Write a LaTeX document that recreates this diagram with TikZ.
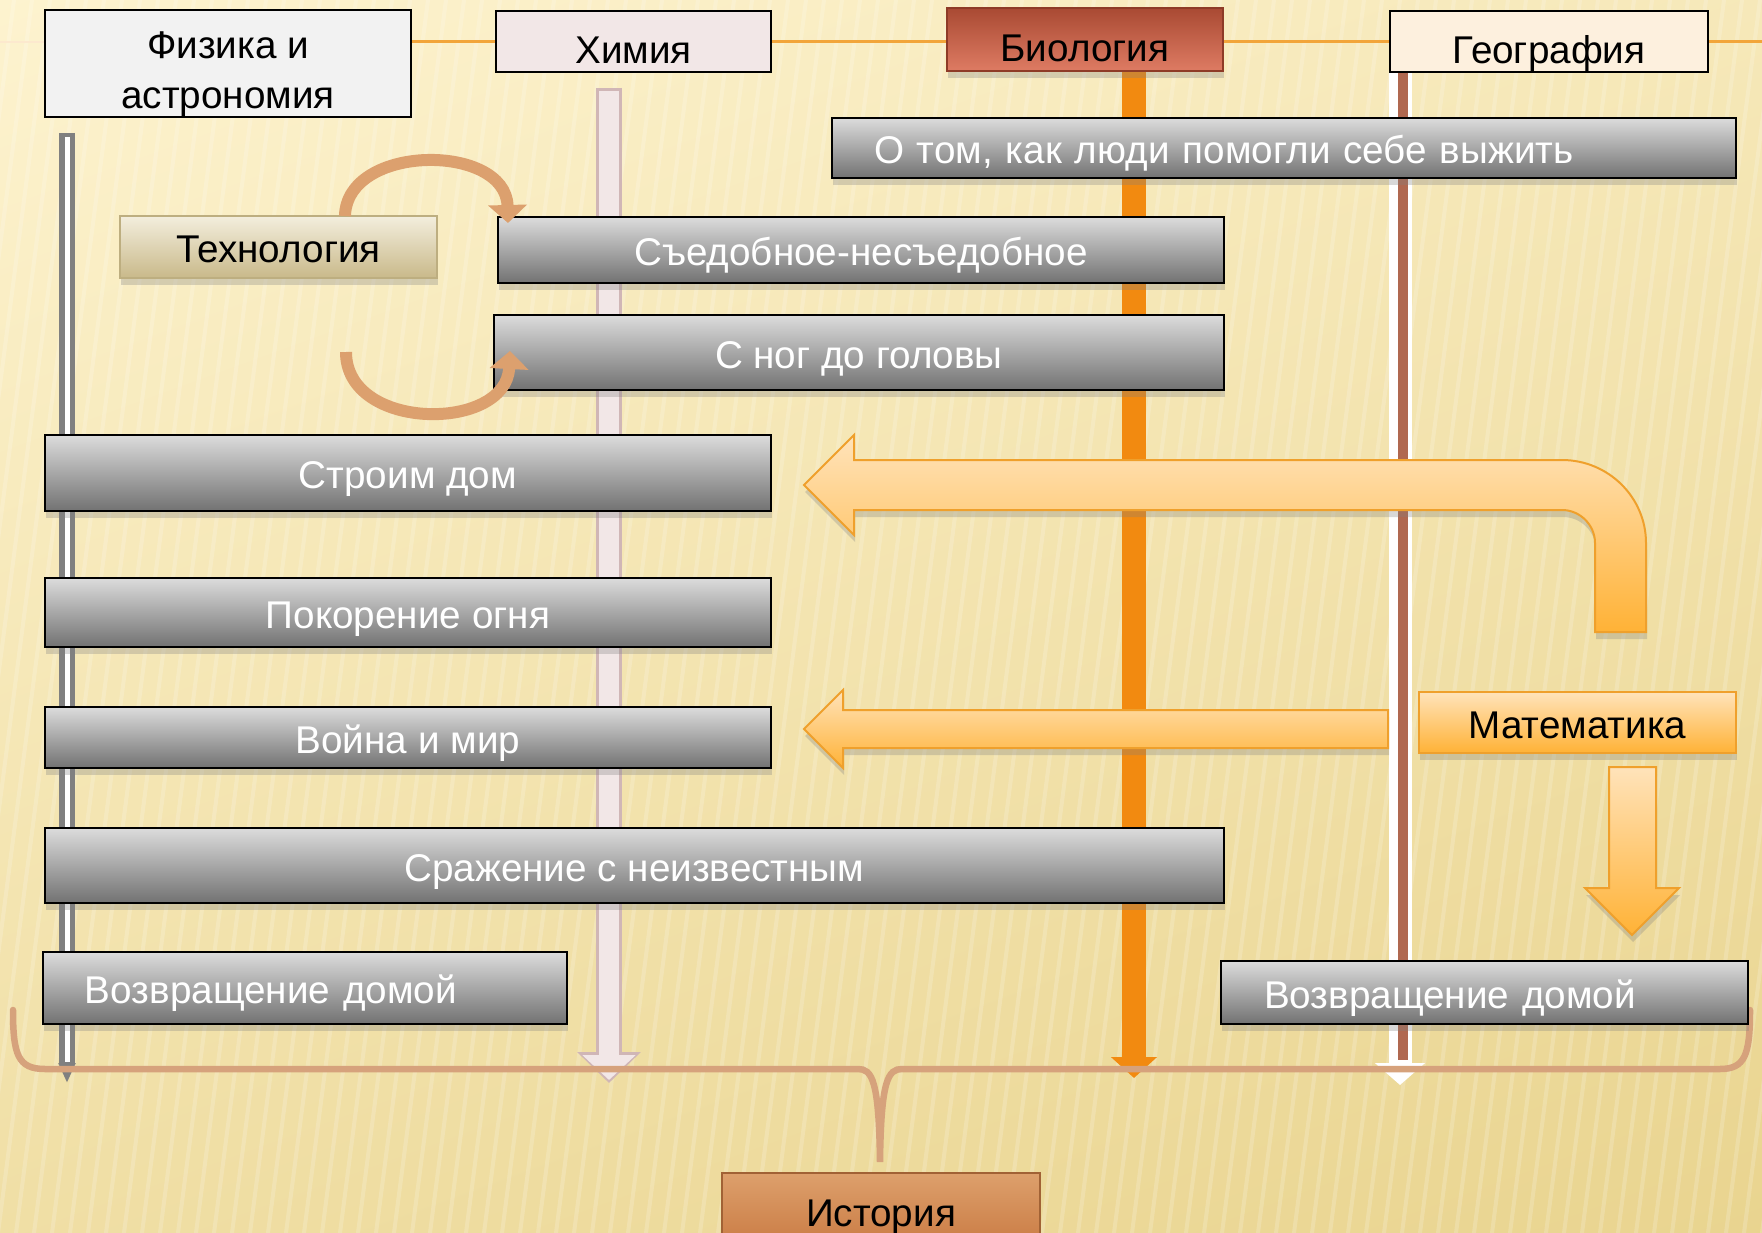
\documentclass[tikz,border=0pt]{standalone}
\usepackage{fontspec}
\setmainfont{Liberation Sans}
\usetikzlibrary{arrows.meta, positioning, shadows}

\definecolor{bgTop}{HTML}{FDF3CF}
\definecolor{bgBot}{HTML}{E9D48F}
\definecolor{lineOrange}{HTML}{F2A53A}
\definecolor{boxTop}{HTML}{DCDCDC}
\definecolor{boxBot}{HTML}{727272}
\definecolor{physFill}{HTML}{F2F2F2}
\definecolor{chemFill}{HTML}{F2E7E7}
\definecolor{chemEdge}{HTML}{D0B6B6}
\definecolor{bioTop}{HTML}{A94A33}
\definecolor{bioBot}{HTML}{DE7B63}
\definecolor{bioEdge}{HTML}{8E3B27}
\definecolor{bioBar}{HTML}{F28A10}
\definecolor{geoFill}{HTML}{FDF0DE}
\definecolor{geoBrown}{HTML}{B06850}
\definecolor{techTop}{HTML}{F3EEDD}
\definecolor{techBot}{HTML}{C9B98A}
\definecolor{techEdge}{HTML}{BDAE80}
\definecolor{arrTop}{HTML}{FFE3BA}
\definecolor{arrBot}{HTML}{FFB236}
\definecolor{arrEdge}{HTML}{EFA02C}
\definecolor{loopTan}{HTML}{DCA06E}
\definecolor{histTop}{HTML}{DDA06C}
\definecolor{histBot}{HTML}{C97A42}
\definecolor{braceTan}{HTML}{D6A27C}

\begin{document}
\begin{tikzpicture}[
    x=0.02cm, y=-0.02cm,
    every node/.style={
        font=\fontsize{22}{28.5}\selectfont,
        inner sep=0pt,
        outer sep=0pt,
        text height=0.66cm,
        text depth=0.02cm,
        anchor=north west
    },
    softshadow/.style={drop shadow={shadow xshift=0.02cm, shadow yshift=-0.14cm, opacity=0.3}},
    head/.style={draw=black, line width=0.04cm, align=center, text height=0.88cm, text depth=0cm},
    topic/.style={draw=black, line width=0.05cm, top color=boxTop, bottom color=boxBot,
        text=white, softshadow},
    techbox/.style={draw=techEdge, line width=0.04cm, top color=techTop, bottom color=techBot, softshadow},
    mathbox/.style={draw=arrEdge, line width=0.04cm, top color=arrTop, bottom color=arrBot, softshadow},
    histbox/.style={draw=histBot!80!black, line width=0.04cm, top color=histTop, bottom color=histBot},
    blockarrow/.style={draw=arrEdge, line width=0.04cm, top color=arrTop, bottom color=arrBot, softshadow},
    physbar/.style={line width=0.32cm, draw=gray, -{Triangle[length=0.4cm, width=0.32cm]},
        postaction={draw=white, line width=0.1cm, arrows=-, shorten <=0.08cm, shorten >=0.42cm}},
    chembar/.style={line width=0.52cm, draw=chemEdge, -{Triangle[length=0.62cm, width=1.24cm]},
        postaction={draw=chemFill, line width=0.4cm, -{Triangle[length=0.5cm, width=1.04cm]},
        shorten <=0.06cm, shorten >=0.06cm}},
    biobar/.style={line width=0.48cm, draw=bioBar, -{Triangle[length=0.42cm, width=0.9cm]}},
    geobar/.style={line width=0.46cm, draw=white, -{Triangle[length=0.44cm, width=0.98cm]}},
    geostripe/.style={line width=0.2cm, draw=geoBrown, shorten >=0.5cm},
    looparrow/.style={line width=0.24cm, draw=loopTan, -{Triangle[length=0.36cm, width=0.76cm]}},
    stripe/.style={draw=white, opacity=0.18, line width=0.08cm}
]

% ------------------------
% Background
% ------------------------
\useasboundingbox (0,0) rectangle (1762,1233);
\clip (0,0) rectangle (1762,1233);
\shade[top color=bgTop, bottom color=bgBot, shading angle=20] (-200,-200) rectangle (1962,1433);
\foreach \s in {-200,-182,...,1800}
    \draw[stripe] (\s,1233) -- (\s+160,0);

% ------------------------
% Subject lines (behind the boxes)
% ------------------------
\coordinate (lineL) at (0,42);
\coordinate (lineM) at (411,42);
\coordinate (lineR) at (1762,42);
\draw[lineOrange!25, line width=0.05cm] (lineL) -- (lineM);
\draw[lineOrange, line width=0.06cm] (lineM) -- (lineR);

\coordinate (physTop) at (67,133);
\coordinate (physEnd) at (67,1083);
\coordinate (chemTop) at (609,88);
\coordinate (chemEnd) at (609,1083);
\coordinate (bioTop) at (1134,71);
\coordinate (bioEnd) at (1134,1078);
\coordinate (geoTop) at (1400,72);
\coordinate (geoEnd) at (1400,1085);

\draw[physbar] (physTop) -- (physEnd);
\draw[chembar] (chemTop) -- (chemEnd);
\draw[biobar] (bioTop) -- (bioEnd);
\draw[geobar] (geoTop) -- (geoEnd);
\draw[geostripe] ([xshift=0.06cm]geoTop) -- ([xshift=0.06cm]geoEnd);

% brace towards History
\coordinate (braceL) at (13,1010);
\coordinate (braceR) at (1750,1010);
\coordinate (braceTip) at (880,1162);
\draw[braceTan, line width=0.13cm, line cap=round]
    (braceL) .. controls (13,1055) and (18,1069) .. (45,1069) -- (858,1069)
    .. controls (872,1069) and (879,1080) .. (braceTip)
    .. controls (881,1080) and (888,1069) .. (902,1069) -- (1720,1069)
    .. controls (1745,1069) and (1750,1055) .. (braceR);

% ------------------------
% Subjects (top row)
% ------------------------
\node[head, fill=physFill, minimum width=7.32cm, minimum height=2.14cm,
  text height=1.82cm, text depth=0cm] (phys) at (45,10)
{Физика и\\астрономия};
\node[head, fill=chemFill, minimum width=5.5cm, minimum height=1.22cm] (chem) at (496,11)
{Химия};
\node[head, draw=bioEdge, top color=bioTop, bottom color=bioBot, softshadow,
  minimum width=5.52cm, minimum height=1.26cm] (bio) at (947,8)
{Биология};
\node[head, fill=geoFill, minimum width=6.36cm, minimum height=1.22cm] (geo) at (1390,11)
{География};

% ------------------------
% Topics
% ------------------------
\node[topic, minimum width=18.08cm, minimum height=1.2cm, text width=16.4cm,
  inner xsep=0.84cm, align=left] (survive) at (832,118)
{О том, как люди помогли себе выжить};

\node[topic, minimum width=14.52cm, minimum height=1.32cm] (edible) at (498,217)
{Съедобное-несъедобное};

\node[topic, minimum width=14.6cm, minimum height=1.5cm] (head2toe) at (494,315)
{С ног до головы};

\node[topic, minimum width=14.52cm, minimum height=1.52cm] (house) at (45,435)
{Строим дом};

\node[topic, minimum width=14.52cm, minimum height=1.38cm] (fire) at (45,578)
{Покорение огня};

\node[topic, minimum width=14.52cm, minimum height=1.22cm] (war) at (45,707)
{Война и мир};

\node[topic, minimum width=23.58cm, minimum height=1.5cm] (unknown) at (45,828)
{Сражение с неизвестным};

\node[topic, minimum width=10.48cm, minimum height=1.44cm, text width=8.8cm,
  inner xsep=0.84cm, align=left] (homeL) at (43,952)
{Возвращение домой};

\node[topic, minimum width=10.54cm, minimum height=1.26cm, text width=8.82cm,
  inner xsep=0.86cm, align=left] (homeR) at (1221,961)
{Возвращение домой};

% ------------------------
% Helper subjects
% ------------------------
\node[techbox, minimum width=6.34cm, minimum height=1.24cm] (tech) at (120,216)
{Технология};

\node[mathbox, minimum width=6.34cm, minimum height=1.22cm] (math) at (1419,692)
{Математика};

\node[histbox, minimum width=6.36cm, minimum height=1.52cm] (hist) at (722,1173)
{История};

% ------------------------
% Arrows
% ------------------------
\path[blockarrow] (804,485) -- (854,435) -- (854,460) -- (1562,460)
    .. controls (1608,460) and (1646,497) .. (1646,543) -- (1646,632) -- (1595,632) -- (1595,543)
    .. controls (1595,525) and (1580,510) .. (1562,510) -- (854,510) -- (854,535) -- cycle;

\path[blockarrow] (804,729) -- (843,690) -- (843,710) -- (1388,710) -- (1388,748)
    -- (843,748) -- (843,768) -- cycle;

\path[blockarrow] (1609,767) -- (1656,767) -- (1656,888) -- (1679,888) -- (1632,935)
    -- (1585,888) -- (1609,888) -- cycle;

\coordinate (loopStart) at (346,352);
\draw[looparrow] ([xshift=4.5cm]tech.north west) .. controls (347,143) and (506,143)
    .. ([shift={(0.2cm,-0.12cm)}]edible.north west);
\draw[looparrow] (loopStart) .. controls (346,432) and (506,432)
    .. ([shift={(0.32cm,-0.72cm)}]head2toe.north west);

\end{tikzpicture}
\end{document}
